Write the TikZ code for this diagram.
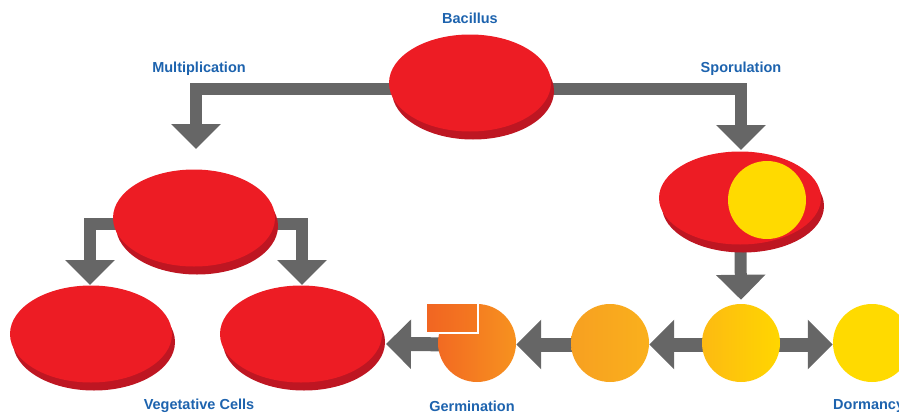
\documentclass[tikz,border=0pt]{standalone}
\usepackage{fontspec}
\setmainfont{Liberation Sans}
\usetikzlibrary{shapes.geometric,arrows.meta,shadows,backgrounds}

\definecolor{discred}{HTML}{ED1C24}
\definecolor{discdark}{HTML}{BE1622}
\definecolor{bargray}{HTML}{666666}
\definecolor{labelblue}{HTML}{1D63AE}
\definecolor{sporeyellow}{HTML}{FFDA00}
\definecolor{germA}{RGB}{242,106,34}
\definecolor{germB}{RGB}{247,146,31}
\definecolor{preA}{RGB}{247,160,33}
\definecolor{preB}{RGB}{250,176,28}
\definecolor{sporeA}{RGB}{253,186,18}
\definecolor{sporeB}{RGB}{255,214,0}
\definecolor{coatA}{RGB}{241,101,34}
\definecolor{coatB}{RGB}{244,121,32}

\tikzset{
  disc/.style={ellipse, inner sep=0pt, minimum width=162pt, minimum height=97pt,
    fill=discred, general shadow={fill=discdark, shadow xshift=3pt, shadow yshift=-8pt}},
  cell/.style={circle, inner sep=0pt, minimum size=78pt},
  bar/.style={draw=bargray, line width=12pt, line join=miter,
    -{Triangle[width=48pt,length=25pt]}},
  lowbar/.style={bar, line width=14pt},
  tag/.style={text=labelblue, font=\bfseries\fontsize{14.5}{16}\selectfont, inner sep=0pt}
}

\begin{document}
\begin{tikzpicture}[x=1pt,y=-1pt]
  \useasboundingbox (0,0) rectangle (899,415);
  \clip (0,0) rectangle (899,415);

  % vegetative cells and sporangium
  \node[disc] (bac) at (470,83) {};
  \node[disc] (mid) at (194,218) {};
  \node[disc] (vl) at (91,334) {};
  \node[disc] (vr) at (301,334) {};
  \node[disc, minimum height=93pt] (spo) at (740,198) {};
  \node[cell, fill=sporeyellow] (endo) at (767,200) {};

  % spores, from germinating to dormant
  \node[cell, shading=axis, left color=germA, right color=germB] (germ) at (477,343) {};
  \node[cell, shading=axis, left color=preA, right color=preB] (pre) at (610,343) {};
  \node[cell, shading=axis, left color=sporeA, right color=sporeB] (spore) at (741,343) {};
  \node[cell, fill=sporeyellow] (dorm) at (872,343) {};
  \node[rectangle, inner sep=0pt, minimum width=52pt, minimum height=30pt,
    draw=white, line width=1.2pt, shading=axis, left color=coatA, right color=coatB]
    (coat) at (452,318) {};

  % free ends of the connectors
  \coordinate (multtip) at (196,149);
  \coordinate (sportip) at (741,150);
  \coordinate (lefttip) at (90,285);
  \coordinate (righttip) at (302,285);
  \coordinate (germtip) at (386,344);

  % connectors, kept behind the cells
  \begin{scope}[on background layer]
    \draw[bar] ([yshift=-5.5pt]bac.center) -| (multtip);
    \draw[bar] ([yshift=-5.5pt]bac.center) -| (sportip);
    \draw[bar] ([yshift=-5.5pt]mid.center) -| (lefttip);
    \draw[bar] ([yshift=-5.5pt]mid.center) -| (righttip);
    \draw[bar] (spo.center) -- ([yshift=4pt]spore.north);
    \draw[lowbar] ([yshift=-1.5pt]spore.center) -- ([yshift=-1.5pt]pre.east);
    \draw[lowbar] ([yshift=-1.5pt]spore.center) -- ([yshift=-1.5pt]dorm.west);
    \draw[lowbar] ([yshift=-1.5pt]pre.center) -- ([yshift=-1.5pt]germ.east);
    \draw[lowbar] ([yshift=-1.5pt]germ.center) -- (germtip);
  \end{scope}

  % labels
  \node[tag] (tbac) at (470,18) {Bacillus};
  \node[tag] (tmult) at (199,69) {Multiplication};
  \node[tag] (tspor) at (741,69) {Sporulation};
  \node[tag] (tveg) at (199,406) {Vegetative Cells};
  \node[tag] (tgerm) at (472,406) {Germination};
  \node[tag, anchor=west] (tdorm) at (833,406) {Dormancy};
\end{tikzpicture}
\end{document}
